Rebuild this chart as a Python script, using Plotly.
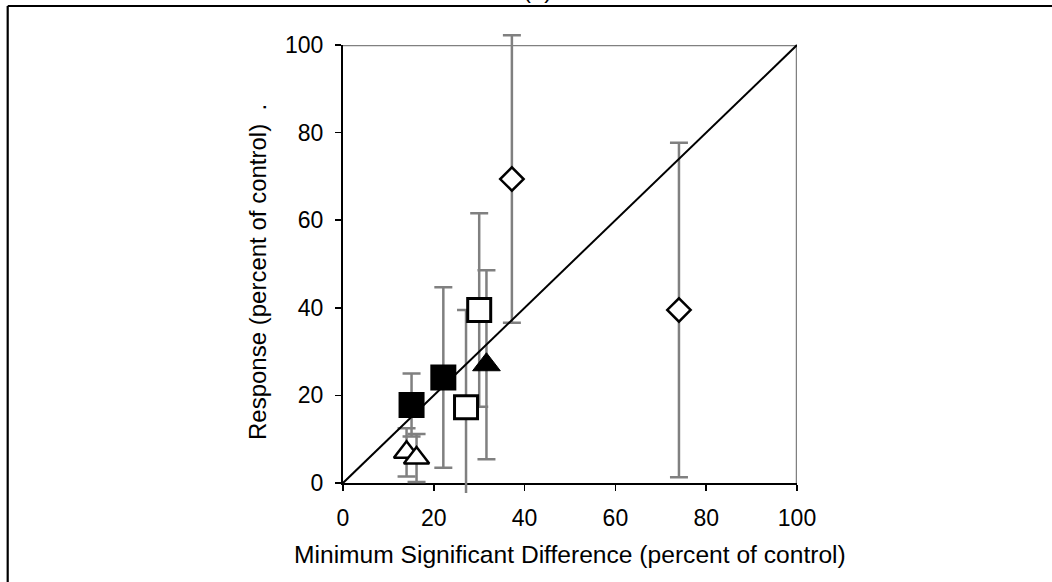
import plotly.graph_objects as go

# ---------------- data ----------------
fsq_x = [15.1, 22.1]
fsq_y = [17.8, 24.1]
fsq_e = [7.2, 20.6]

osq_x = [27.1, 30.0]
osq_y = [17.3, 39.5]
osq_e = [22.2, 22.1]

ftr_x = [31.6]
ftr_y = [27.0]
ftr_e = [21.6]

otr_x = [14.0, 16.2]
otr_y = [7.0, 5.7]
otr_e = [5.5, 5.5]

dia_x = [37.2, 74.0]
dia_y = [69.4, 39.5]
dia_e = [32.8, 38.2]

line_x = [0, 100]
line_y = [0, 100]

tick_vals = [0, 20, 40, 60, 80, 100]
tick_text = ["0", "20", "40", "60", "80", "100"]

x_title = "Minimum Significant Difference (percent of control)"
y_title = "Response (percent of control)\u00a0\u00a0."
panel_label = "(a)"

# ---------------- layout geometry ----------------
W, H = 1052, 582
PX0, PX1 = 343, 797      # plot area left/right (pixels)
PY0, PY1 = 483, 45       # plot area bottom/top (pixels)
EXT_TOP, EXT_BOT = 15, 10
ppu_y = (PY0 - PY1) / 100.0

FONT = "Arial, 'Liberation Sans', sans-serif"
GRAY = "#808080"

xdom = [PX0 / W, PX1 / W]
ydom = [(H - PY0) / H, (H - PY1) / H]
y2dom = [(H - PY0 - EXT_BOT) / H, (H - PY1 + EXT_TOP) / H]
y2range = [-EXT_BOT / ppu_y, 100 + EXT_TOP / ppu_y]

fig = go.Figure()

# dummy trace so the visible axes render
fig.add_trace(go.Scatter(x=[None], y=[None], xaxis="x", yaxis="y",
                         mode="markers", showlegend=False, hoverinfo="skip"))


def err_trace(xs, ys, es):
    return go.Scatter(
        x=xs, y=ys, xaxis="x2", yaxis="y2", mode="markers",
        marker=dict(size=1, opacity=0),
        error_y=dict(type="data", array=es, visible=True, color=GRAY,
                     thickness=2.5, width=9),
        showlegend=False, hoverinfo="skip")


for xs, ys, es in [(dia_x, dia_y, dia_e), (fsq_x, fsq_y, fsq_e),
                   (osq_x, osq_y, osq_e), (ftr_x, ftr_y, ftr_e),
                   (otr_x, otr_y, otr_e)]:
    fig.add_trace(err_trace(xs, ys, es))

# diagonal 1:1 line
fig.add_trace(go.Scatter(x=line_x, y=line_y, xaxis="x2", yaxis="y2",
                         mode="lines", line=dict(color="black", width=2),
                         showlegend=False, hoverinfo="skip"))


def mk_trace(xs, ys, symbol, size, fill, lw):
    return go.Scatter(
        x=xs, y=ys, xaxis="x2", yaxis="y2", mode="markers",
        marker=dict(symbol=symbol, size=size, color=fill,
                    line=dict(color="black", width=lw)),
        showlegend=False, cliponaxis=False)


fig.add_trace(mk_trace(dia_x, dia_y, "diamond", 18, "white", 2.5))
fig.add_trace(mk_trace(fsq_x, fsq_y, "square", 24, "black", 2))
fig.add_trace(mk_trace(osq_x, osq_y, "square", 23, "white", 3))
fig.add_trace(mk_trace(ftr_x, ftr_y, "triangle-up", 24, "black", 1))
fig.add_trace(mk_trace(otr_x, otr_y, "triangle-up", 22, "white", 2.5))

axis_common = dict(
    range=[0, 100], showgrid=False, zeroline=False, showline=True,
    linecolor="black", linewidth=2, ticks="outside", ticklen=6,
    tickwidth=1.5, tickcolor="black", tickvals=tick_vals, ticktext=tick_text,
    tickfont=dict(family=FONT, size=23, color="black"), fixedrange=True,
    automargin=False,
)

fig.update_layout(
    width=W, height=H, autosize=False,
    margin=dict(l=0, r=0, t=0, b=0, pad=0, autoexpand=False),
    paper_bgcolor="white", plot_bgcolor="rgba(0,0,0,0)",
    font=dict(family=FONT, color="black"),
    xaxis=dict(domain=xdom, anchor="y", ticklabelstandoff=7, **axis_common),
    yaxis=dict(domain=ydom, anchor="x", ticklabelstandoff=7, **axis_common),
    xaxis2=dict(domain=xdom, anchor="y2", range=[0, 100], visible=False,
                fixedrange=True),
    yaxis2=dict(domain=y2dom, anchor="x2", range=y2range, visible=False,
                fixedrange=True),
    showlegend=False,
)

# gray top/right border of plot area
fig.add_shape(type="line", xref="x", yref="y", x0=0, x1=100, y0=100, y1=100,
              line=dict(color=GRAY, width=2.5), layer="below")
fig.add_shape(type="line", xref="x", yref="y", x0=100, x1=100, y0=0, y1=100,
              line=dict(color=GRAY, width=2.5), layer="below")

# outer frame (left and top black lines)
fx = 7.7 / W
fy = (H - 6) / H
fig.add_shape(type="line", xref="paper", yref="paper", x0=fx, x1=fx, y0=0, y1=fy,
              line=dict(color="black", width=2.2))
fig.add_shape(type="line", xref="paper", yref="paper", x0=fx, x1=1, y0=fy, y1=fy,
              line=dict(color="black", width=2.2))

# axis titles
fig.add_annotation(text=x_title, xref="paper", yref="paper",
                   x=570 / W, y=(H - 554) / H, xanchor="center", yanchor="middle",
                   showarrow=False, font=dict(family=FONT, size=24.6, color="black"))
fig.add_annotation(text=y_title, xref="paper", yref="paper",
                   x=257 / W, y=(H - 272) / H, xanchor="center", yanchor="middle",
                   textangle=-90, showarrow=False,
                   font=dict(family=FONT, size=24, color="black"))
# panel label (mostly cut off at the top edge, as in the reference)
fig.add_annotation(text=panel_label, xref="paper", yref="paper",
                   x=537 / W, y=(H - 5) / H, xanchor="center", yanchor="bottom",
                   showarrow=False, font=dict(family=FONT, size=24, color="black"))

fig.write_html("out.html",
               config={"displayModeBar": False, "staticPlot": True},
               post_script="document.body.style.margin='0px';"
                           "document.body.style.padding='0px';")
